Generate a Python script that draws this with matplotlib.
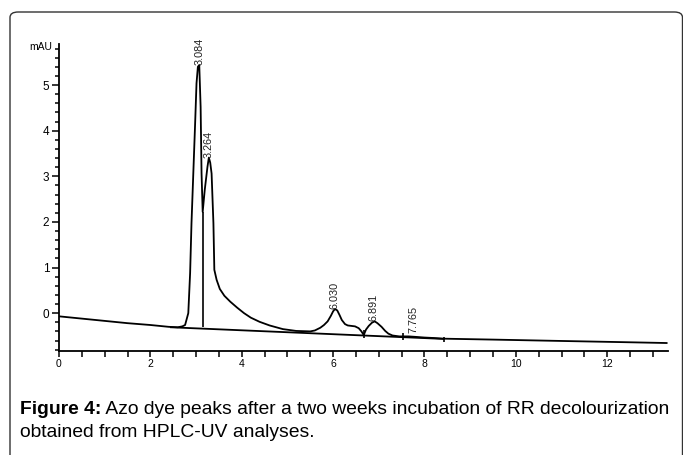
import matplotlib
matplotlib.use("Agg")
import matplotlib.pyplot as plt
from matplotlib import font_manager
from matplotlib.patches import FancyBboxPatch
from matplotlib.ticker import MultipleLocator

# ---------------- data ----------------
time_min = [0.00, 0.50, 1.00, 1.50, 2.00, 2.40, 2.60, 2.70, 2.76, 2.83, 2.87, 2.90,
            2.94, 2.98, 3.01, 3.04, 3.07, 3.10, 3.12, 3.145, 3.19, 3.25, 3.28, 3.31,
            3.34, 3.38, 3.40, 3.45, 3.52, 3.62, 3.75, 3.90, 4.05, 4.20, 4.39, 4.61,
            4.90, 5.19, 5.50, 5.60, 5.72, 5.80, 5.88, 5.95, 6.00, 6.04, 6.09, 6.14,
            6.19, 6.26, 6.32, 6.40, 6.48, 6.56, 6.62, 6.67, 6.72, 6.78, 6.85, 6.91,
            6.97, 7.06, 7.14, 7.21, 7.30, 7.45, 7.65, 7.80, 8.00, 8.20, 8.42, 9.50,
            11.0, 12.3, 13.3]
signal_mau = [-0.07, -0.12, -0.17, -0.22, -0.26, -0.30, -0.31, -0.29, -0.26, 0.00, 0.88, 1.97,
              3.07, 4.17, 5.04, 5.40, 5.44, 4.52, 3.07, 2.22, 2.70, 3.21, 3.41, 3.30,
              3.06, 1.97, 0.95, 0.73, 0.53, 0.38, 0.25, 0.12, 0.00, -0.10, -0.19, -0.27,
              -0.35, -0.39, -0.40, -0.38, -0.32, -0.26, -0.18, -0.06, 0.04, 0.09, 0.06, -0.04,
              -0.15, -0.24, -0.27, -0.28, -0.29, -0.33, -0.40, -0.48, -0.36, -0.28, -0.21, -0.18,
              -0.22, -0.30, -0.39, -0.45, -0.49, -0.51, -0.51, -0.52, -0.535, -0.545, -0.56, -0.58,
              -0.61, -0.635, -0.655]

baseline_t = [2.45, 8.42]
baseline_v = [-0.31, -0.565]

peak_times = [3.084, 3.264, 6.030, 6.891, 7.765]
peak_heights = [5.44, 3.41, 0.09, -0.18, -0.44]
peak_labels = ["3.084", "3.264", "6.030", "6.891", "7.765"]

drop_t = [3.15, 6.67, 7.52, 8.42]
drop_top = [2.22, -0.38, -0.43, -0.52]
drop_bottom = [-0.31, -0.54, -0.59, -0.64]

x_tick_labels = ["0", "2", "4", "6", "8", "10", "12"]
y_tick_labels = ["0", "1", "2", "3", "4", "5"]

caption_bold = "Figure 4:"
caption_line1 = "Azo dye peaks after a two weeks incubation of RR decolourization"
caption_line2 = "obtained from HPLC-UV analyses."

# ---------------- fonts ----------------
names = {f.name for f in font_manager.fontManager.ttflist}
tick_font = "Liberation Sans" if "Liberation Sans" in names else "DejaVu Sans"
cap_font = "Liberation Sans Narrow" if "Liberation Sans Narrow" in names else tick_font

W, H = 683, 455
fig = plt.figure(figsize=(W / 100, H / 100), dpi=100)
fig.patch.set_facecolor("white")

# rounded frame around the figure
frame = FancyBboxPatch((10 / W, -20 / H), (682.5 - 10) / W, (455 - 12 + 20) / H,
                       boxstyle="round,pad=0,rounding_size=0.012",
                       transform=fig.transFigure, facecolor="none",
                       edgecolor="#333333", linewidth=1.0, clip_on=False)
fig.patches.append(frame)

ax = fig.add_axes([59 / W, 1 - 351 / H, (668 - 59) / W, (351 - 44) / H])
ax.set_xlim(0, 13.33)
ax.set_ylim(-0.83, 5.9)

ax.plot(time_min, signal_mau, color="black", lw=1.3, solid_joinstyle="round")
ax.plot(baseline_t, baseline_v, color="black", lw=1.3)
ax.vlines(drop_t, drop_bottom, drop_top, color="black", lw=1.2)

for t, h, lab in zip(peak_times, peak_heights, peak_labels):
    ax.text(t, h, lab, rotation=90, ha="center", va="bottom",
            fontsize=7.8, family=tick_font, color="#222222")

for s in ["top", "right"]:
    ax.spines[s].set_visible(False)
for s in ["left", "bottom"]:
    ax.spines[s].set_linewidth(1.3)

xticks = [i * 0.5 for i in range(27)]
ax.set_xticks(xticks)
ax.set_xticklabels([x_tick_labels[int(round(v)) // 2] if (v == int(v) and int(v) % 2 == 0) else ""
                    for v in xticks])
ax.tick_params(axis="x", direction="out", length=4, width=1.1, pad=2,
               labelsize=7.5, labelfontfamily=tick_font)

ax.set_yticks(range(len(y_tick_labels)))
ax.set_yticklabels(y_tick_labels)
ax.yaxis.set_minor_locator(MultipleLocator(0.2))
ax.tick_params(axis="y", which="major", direction="out", length=5, width=1.1, pad=2,
               labelsize=8.5, labelfontfamily=tick_font)
ax.tick_params(axis="y", which="minor", direction="out", length=3, width=1.1)

ax.text(-0.012, 0.99, "mAU", transform=ax.transAxes, ha="right", va="center",
        fontsize=7.5, family=tick_font)

# ---------------- caption (line 1 fitted to the frame width) ----------------
renderer = fig.canvas.get_renderer()
x0, x1 = 20, 669
y1, y2 = 1 - 414 / H, 1 - 437 / H
fs = 12.5
for _ in range(3):
    tb = fig.text(x0 / W, y1, caption_bold, fontsize=fs, weight="bold", family=cap_font,
                  va="baseline", ha="left")
    tr = fig.text(0, y1, " " + caption_line1, fontsize=fs, family=cap_font,
                  va="baseline", ha="left")
    wb = tb.get_window_extent(renderer).width
    wr = tr.get_window_extent(renderer).width
    total = wb + wr
    tb.remove(); tr.remove()
    fs = fs * (x1 - x0) / total
fs = min(fs, 14)
tb = fig.text(x0 / W, y1, caption_bold, fontsize=fs, weight="bold", family=cap_font,
              va="baseline", ha="left")
wb = tb.get_window_extent(renderer).width
fig.text((x0 + wb) / W, y1, " " + caption_line1, fontsize=fs, family=cap_font,
         va="baseline", ha="left")
fig.text(x0 / W, y2, caption_line2, fontsize=fs, family=cap_font,
         va="baseline", ha="left")

fig.savefig("out.png", dpi=100, facecolor="white")
